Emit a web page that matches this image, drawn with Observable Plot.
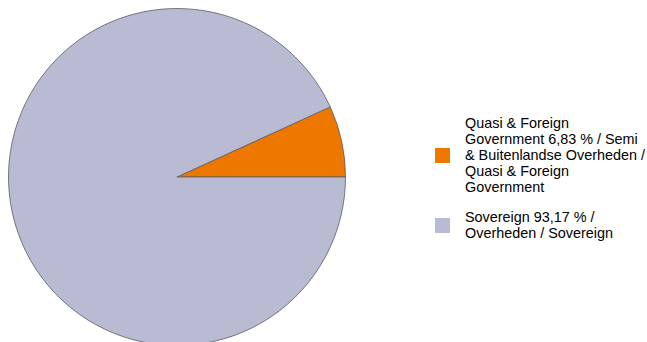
<!DOCTYPE html>
<html>
<head>
<meta charset="utf-8">
<script src="https://cdn.jsdelivr.net/npm/d3@7"></script>
<script src="https://cdn.jsdelivr.net/npm/@observablehq/plot@0.6"></script>
<style>
  html, body { margin: 0; padding: 0; background: #fff; overflow: hidden; }
  #wrap { position: relative; width: 647px; height: 342px; }
  #legend { position: absolute; left: 435px; top: 115px; font-family: "Liberation Sans", Arial, sans-serif; font-size: 14.4px; line-height: 16px; color: #000; }
  .item { display: flex; align-items: center; margin-bottom: 14px; }
  .sw { width: 15px; height: 15px; flex: none; margin-right: 15px; }
  .lab { white-space: pre-line; }
</style>
</head>
<body>
<div id="wrap"></div>
<script>
const categories = ["Quasi & Foreign Government", "Sovereign"];
const values = [6.83, 93.17];
const legendLabels = [
  "Quasi & Foreign\nGovernment 6,83 % / Semi\n& Buitenlandse Overheden /\nQuasi & Foreign\nGovernment",
  "Sovereign 93,17 % /\nOverheden / Sovereign"
];
const colors = ["#ee7700", "#b9bbd2"];

const data = categories.map((c, i) => ({category: c, value: values[i], label: legendLabels[i]}));

const pie = d3.pie().value(d => d.value).sort(null)
  .startAngle(Math.PI / 2).endAngle(Math.PI / 2 - 2 * Math.PI);
const arcs = pie(data);

function pieMark(index, scales) {
  const cx = scales.x(0), cy = scales.y(0);
  const r = Math.abs(scales.x(1) - scales.x(0));
  const arc = d3.arc().innerRadius(0).outerRadius(r);
  const g = d3.create("svg:g").attr("transform", `translate(${cx},${cy})`);
  g.selectAll("path").data(arcs).join("path")
    .attr("d", arc)
    .attr("fill", d => scales.color(d.data.category))
    .attr("stroke", "#5a5a64")
    .attr("stroke-width", 0.8)
    .attr("stroke-linejoin", "round");
  return g.node();
}

const plot = Plot.plot({
  width: 647,
  height: 342,
  margin: 0,
  x: {domain: [-1, 1], range: [8.5, 345.5], axis: null},
  y: {domain: [1, -1], range: [8.5, 345.5], axis: null},
  color: {type: "ordinal", domain: categories, range: colors},
  style: {overflow: "visible", background: "#fff"},
  marks: [pieMark]
});

const wrap = document.getElementById("wrap");
wrap.appendChild(plot);

const color = plot.scale("color");
const legend = document.createElement("div");
legend.id = "legend";
data.forEach((d, i) => {
  const item = document.createElement("div");
  item.className = "item";
  const sw = document.createElement("div");
  sw.className = "sw";
  sw.style.background = color.apply(d.category);
  const lab = document.createElement("div");
  lab.className = "lab";
  lab.textContent = d.label;
  item.appendChild(sw);
  item.appendChild(lab);
  legend.appendChild(item);
});
wrap.appendChild(legend);
</script>
</body>
</html>
